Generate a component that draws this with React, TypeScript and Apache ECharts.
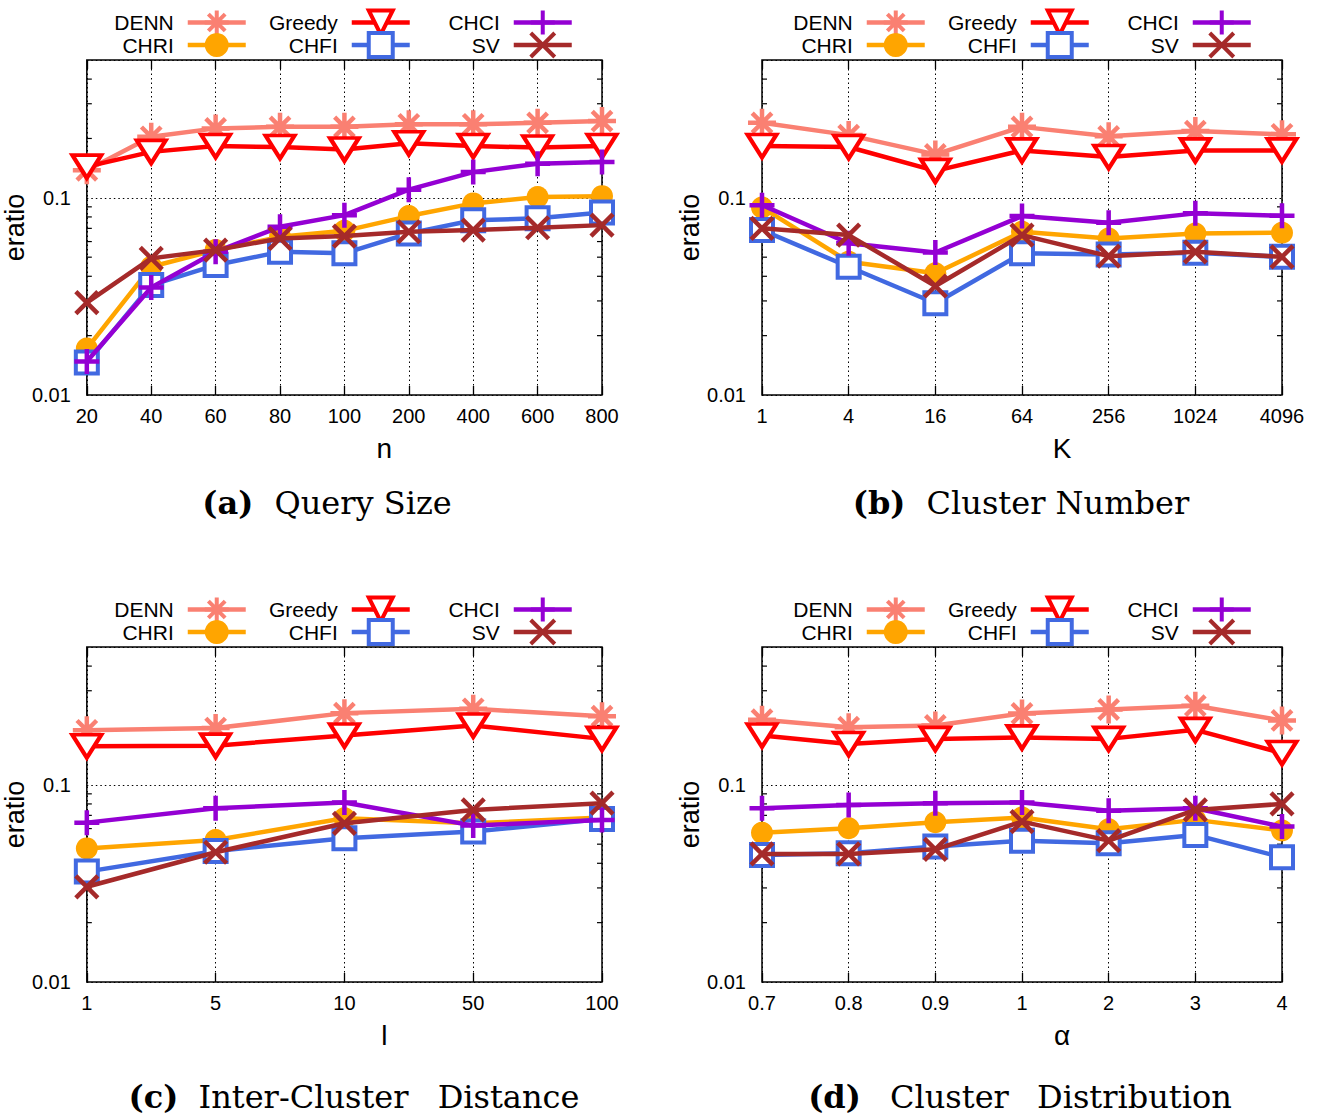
import React, { useEffect, useRef } from 'react';
import * as echarts from 'echarts';

const W = 1317;
const H = 1117;
const FONT = '"Liberation Sans", Arial, sans-serif';
const SERIF = '"DejaVu Serif", serif';

// ---------- categories ----------
const catsA = ['20', '40', '60', '80', '100', '200', '400', '600', '800'];
const catsB = ['1', '4', '16', '64', '256', '1024', '4096'];
const catsC = ['1', '5', '10', '50', '100'];
const catsD = ['0.7', '0.8', '0.9', '1', '2', '3', '4'];

const seriesNames = ['DENN', 'CHRI', 'Greedy', 'CHFI', 'CHCI', 'SV'];

// ---------- (a) Query Size ----------
const aDENN = [0.138, 0.204, 0.225, 0.229, 0.229, 0.236, 0.236, 0.240, 0.245];
const aCHRI = [0.0172, 0.0447, 0.0543, 0.0634, 0.068, 0.0808, 0.0937, 0.101, 0.102];
const aGreedy = [0.144, 0.171, 0.183, 0.181, 0.176, 0.189, 0.183, 0.180, 0.183];
const aCHFI = [0.0146, 0.0361, 0.0456, 0.0532, 0.0523, 0.066, 0.077, 0.0787, 0.0843];
const aCHCI = [0.0148, 0.0351, 0.0532, 0.0713, 0.0817, 0.110, 0.135, 0.149, 0.152];
const aSV = [0.0294, 0.0493, 0.0543, 0.0622, 0.064, 0.0673, 0.0686, 0.0705, 0.0727];

// ---------- (b) Cluster Number ----------
const bDENN = [0.240, 0.208, 0.166, 0.229, 0.205, 0.218, 0.210];
const bCHRI = [0.0894, 0.0474, 0.0414, 0.0673, 0.0622, 0.066, 0.0665];
const bGreedy = [0.183, 0.181, 0.137, 0.174, 0.161, 0.174, 0.174];
const bCHFI = [0.0686, 0.0447, 0.0292, 0.0523, 0.0516, 0.0526, 0.0502];
const bCHCI = [0.0918, 0.0588, 0.0528, 0.0808, 0.0747, 0.0834, 0.081];
const bSV = [0.070, 0.0647, 0.0357, 0.0647, 0.0506, 0.0532, 0.0502];

// ---------- (c) Inter-Cluster Distance ----------
const cDENN = [0.189, 0.194, 0.231, 0.243, 0.223];
const cCHRI = [0.0476, 0.0525, 0.0677, 0.0638, 0.0682];
const cGreedy = [0.157, 0.158, 0.178, 0.200, 0.171];
const cCHFI = [0.0363, 0.0462, 0.0536, 0.058, 0.067];
const cCHCI = [0.0643, 0.076, 0.0813, 0.0621, 0.0664];
const cSV = [0.0304, 0.0455, 0.0638, 0.0746, 0.0807];

// ---------- (d) Cluster Distribution ----------
const dDENN = [0.214, 0.196, 0.200, 0.230, 0.241, 0.252, 0.212];
const dCHRI = [0.0572, 0.0602, 0.0646, 0.0682, 0.0595, 0.0664, 0.0586];
const dGreedy = [0.178, 0.161, 0.171, 0.174, 0.171, 0.190, 0.145];
const dCHFI = [0.0441, 0.045, 0.0486, 0.0521, 0.0505, 0.0557, 0.0429];
const dCHCI = [0.076, 0.0791, 0.0807, 0.0813, 0.0738, 0.076, 0.0614];
const dSV = [0.0446, 0.0446, 0.0471, 0.0651, 0.0521, 0.0746, 0.080];

// ---------- axis ticks ----------
const yMin = 0.01;
const yMax = 0.5;
const yTickLabels = ['0.01', '0.1'];
const minorTickValues = [0.02, 0.03, 0.04, 0.05, 0.06, 0.07, 0.08, 0.09, 0.2, 0.3, 0.4];

const ASTER = 'path://M0,10L20,10M10,0L10,20M3,3L17,17M17,3L3,17';
const PLUS = 'path://M0,10L20,10M10,0L10,20';
const CROSS = 'path://M0,0L20,20M20,0L0,20';

const LINE_W = 4.5;

const styleMap: Record<string, any> = {
  DENN: { color: '#fa8072', symbol: ASTER, size: 28, fill: '#fa8072', bw: 4.5 },
  CHRI: { color: '#ffa500', symbol: 'circle', size: 22, fill: '#ffa500', bw: 0 },
  Greedy: { color: '#ff0000', symbol: 'triangle', size: [29, 23], rotate: 180, fill: '#ffffff', bw: 4 },
  CHFI: { color: '#4169e1', symbol: 'rect', size: 22, fill: '#ffffff', bw: 4 },
  CHCI: { color: '#9400d3', symbol: PLUS, size: 25, fill: '#9400d3', bw: 4.5 },
  SV: { color: '#a52a2a', symbol: CROSS, size: 22, fill: '#a52a2a', bw: 4.5 },
};

const panels = [
  {
    cats: catsA, data: [aDENN, aCHRI, aGreedy, aCHFI, aCHCI, aSV], left: 83, top: 60, width: 519, xName: 'n',
    caption: '{b|(a)} Query Size', tagPad: 11, wordPad: 0, capX: 327, capY: 503,
  },
  {
    cats: catsB, data: [bDENN, bCHRI, bGreedy, bCHFI, bCHCI, bSV], left: 762, top: 60, width: 520, xName: 'K',
    caption: '{b|(b)} Cluster Number', tagPad: 11, wordPad: 0, capX: 1021, capY: 503,
  },
  {
    cats: catsC, data: [cDENN, cCHRI, cGreedy, cCHFI, cCHCI, cSV], left: 83, top: 647, width: 519, xName: 'l',
    caption: '{b|(c)} {w|Inter-Cluster} Distance', tagPad: 10, wordPad: 19, capX: 354, capY: 1097,
  },
  {
    cats: catsD, data: [dDENN, dCHRI, dGreedy, dCHFI, dCHCI, dSV], left: 762, top: 647, width: 520, xName: 'α',
    caption: '{b|(d)} {w|Cluster} Distribution', tagPad: 19, wordPad: 18, capX: 1020, capY: 1097,
  },
];
const PLOT_H = 335;

const legendCols = [['DENN', 'CHRI'], ['Greedy', 'CHFI'], ['CHCI', 'SV']];
const legendRightEdges = [248, 412, 574];
const legendGaps = [-3.5, -5.5, -5.5];

const dotted = { color: '#000', type: [1.5, 3], width: 1 };
const tickStyle = { color: '#000', width: 1.3 };

function yLabel(v: number) {
  for (const t of yTickLabels) {
    if (Math.abs(v - Number(t)) < 1e-9) return t;
  }
  return '';
}

function buildOption() {
  const grid = panels.map((p) => ({
    left: p.left,
    top: p.top,
    width: p.width,
    height: PLOT_H,
    show: true,
    borderColor: '#000',
    borderWidth: 1.5,
    backgroundColor: 'transparent',
  }));

  const xAxis = panels.flatMap((p, i) => [
    {
      type: 'category',
      gridIndex: i,
      data: p.cats,
      boundaryGap: false,
      position: 'bottom',
      axisLine: { show: false },
      axisTick: { inside: true, length: 9, lineStyle: tickStyle, interval: 0 },
      axisLabel: { margin: 11, fontSize: 20, color: '#000', fontFamily: FONT, interval: 0 },
      splitLine: { show: true, interval: 0, lineStyle: dotted },
      name: p.xName,
      nameLocation: 'middle',
      nameGap: 39,
      nameTextStyle: { fontSize: 28, fontFamily: FONT, color: '#000', padding: [0, 0, 0, 80] },
    },
    {
      type: 'category',
      gridIndex: i,
      data: p.cats,
      boundaryGap: false,
      position: 'top',
      axisLine: { show: false },
      axisTick: { inside: true, length: 9, lineStyle: tickStyle, interval: 0 },
      axisLabel: { show: false },
      splitLine: { show: false },
    },
  ]);

  const yAxis = panels.flatMap((p, i) => [
    {
      type: 'log',
      logBase: 10,
      gridIndex: i,
      min: yMin,
      max: yMax,
      position: 'left',
      axisLine: { show: false },
      axisTick: { inside: true, length: 9, lineStyle: tickStyle },
      axisLabel: { formatter: yLabel, margin: 16, fontSize: 20, color: '#000', fontFamily: FONT },
      splitLine: { show: true, lineStyle: dotted },
      name: 'eratio',
      nameLocation: 'middle',
      nameGap: 35,
      nameTextStyle: { fontSize: 27, fontFamily: FONT, color: '#000' },
    },
    {
      type: 'log',
      logBase: 10,
      gridIndex: i,
      min: yMin,
      max: yMax,
      position: 'right',
      axisLine: { show: false },
      axisTick: { inside: true, length: 9, lineStyle: tickStyle },
      axisLabel: { show: false },
      splitLine: { show: false },
    },
  ]);

  const series: any[] = [];
  panels.forEach((p, i) => {
    series.push({
      type: 'custom',
      name: 'minor-ticks',
      xAxisIndex: 2 * i,
      yAxisIndex: 2 * i,
      silent: true,
      z: 1,
      data: minorTickValues.map((v) => [0, v]),
      renderItem: (params: any, api: any) => {
        const cs = params.coordSys;
        const y = api.coord([0, api.value(1)])[1];
        return {
          type: 'group',
          children: [
            { type: 'line', shape: { x1: cs.x, y1: y, x2: cs.x + 5, y2: y }, style: { stroke: '#000', lineWidth: 1.2 } },
            { type: 'line', shape: { x1: cs.x + cs.width - 5, y1: y, x2: cs.x + cs.width, y2: y }, style: { stroke: '#000', lineWidth: 1.2 } },
          ],
        };
      },
    });
    seriesNames.forEach((name, k) => {
      const s = styleMap[name];
      series.push({
        type: 'line',
        name,
        xAxisIndex: 2 * i,
        yAxisIndex: 2 * i,
        data: p.data[k],
        symbol: s.symbol,
        symbolSize: s.size,
        symbolRotate: s.rotate || 0,
        showAllSymbol: true,
        showSymbol: true,
        lineStyle: { color: s.color, width: LINE_W },
        itemStyle: { color: s.fill, borderColor: s.color, borderWidth: s.bw },
        emphasis: { disabled: true },
        z: 2 + k,
      });
    });
  });

  const legend = panels.flatMap((p) =>
    legendCols.map((names, c) => ({
      data: names.map((n) => (n === 'CHRI' ? { name: n, itemStyle: { borderWidth: 0 } } : { name: n })),
      orient: 'vertical',
      align: 'right',
      right: W - (legendRightEdges[c] + p.left - 83),
      top: 8.5 + p.top - 60,
      padding: 0,
      itemGap: legendGaps[c],
      itemWidth: 58,
      itemHeight: 30,
      selectedMode: false,
      itemStyle: { borderWidth: 4 },
      lineStyle: { width: LINE_W },
      textStyle: { fontFamily: FONT, fontSize: 21, color: '#000', padding: [0, 9, 0, 0] },
    }))
  );

  const graphic = panels.map((p) => ({
    type: 'text',
    x: p.capX,
    y: p.capY,
    style: {
      text: p.caption,
      rich: {
        b: { fontWeight: 'bold', fontFamily: SERIF, fontSize: 32, fill: '#000', padding: [0, p.tagPad, 0, 0] },
        w: { fontFamily: SERIF, fontSize: 32, fill: '#000', padding: [0, p.wordPad, 0, 0] },
      },
      fontFamily: SERIF,
      fontSize: 32,
      fill: '#000',
      align: 'center',
      verticalAlign: 'middle',
    },
  }));

  return {
    animation: false,
    backgroundColor: '#ffffff',
    grid,
    xAxis,
    yAxis,
    legend,
    series,
    graphic,
  };
}

export default function App() {
  const ref = useRef<HTMLDivElement>(null);
  useEffect(() => {
    document.body.style.margin = '0';
    if (!ref.current) return;
    const chart = echarts.init(ref.current, undefined, { renderer: 'svg' });
    chart.setOption(buildOption() as any);
    return () => {
      chart.dispose();
    };
  }, []);
  return <div ref={ref} style={{ width: W, height: H, background: '#fff' }} />;
}
